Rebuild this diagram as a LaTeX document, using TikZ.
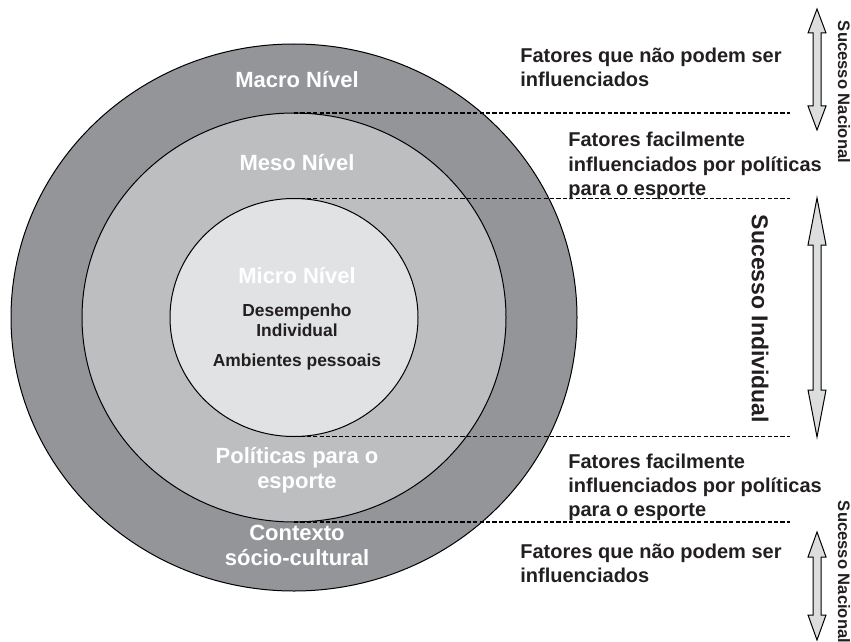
\documentclass[tikz,border=0pt]{standalone}
\usepackage{fontspec}
\setmainfont{Liberation Sans}
\usetikzlibrary{positioning,shapes.geometric}

\definecolor{macrogray}{HTML}{939598}
\definecolor{mesogray}{HTML}{BCBEC0}
\definecolor{microgray}{HTML}{E1E2E3}
\definecolor{arrowgray}{HTML}{DCDDDF}
\definecolor{inkdark}{HTML}{231F20}

\tikzset{
  level/.style={ellipse, draw=black, line width=0.5pt, inner sep=0pt, outer sep=0pt},
  levelname/.style={anchor=base, text=white, font=\fontsize{11}{13}\selectfont\bfseries},
  micronote/.style={anchor=base, text=inkdark, font=\fontsize{8.7}{10}\selectfont\bfseries},
  factor/.style={anchor=base west, inner sep=0pt, text=inkdark, font=\fontsize{10}{12}\selectfont\bfseries},
  guide/.style={draw=black, line width=0.6pt, dash pattern=on 2.1pt off 1.1pt},
  bigarrow/.style={draw=black, line width=0.5pt, fill=arrowgray, line join=miter},
  sucesso/.style={rotate=-90, text=inkdark, inner sep=0pt, font=\fontsize{#1}{#1}\selectfont\bfseries}
}

% x, top tip, bottom tip, head length
\newcommand{\dblarrow}[4]{%
  \draw[bigarrow] (#1,#2) -- (#1+9,#2+#4) -- (#1+4,#2+#4) -- (#1+4,#3-#4) -- (#1+9,#3-#4)
    -- (#1,#3) -- (#1-9,#3-#4) -- (#1-4,#3-#4) -- (#1-4,#2+#4) -- (#1-9,#2+#4) -- cycle;}

\begin{document}
\begin{tikzpicture}[x=0.5pt, y=-0.5pt]
  \useasboundingbox (0,0) rectangle (851,642);

  \node[level, fill=macrogray, minimum width=283pt, minimum height=273.5pt] (macro) at (294,317.5) {};
  \node[level, fill=mesogray, minimum width=212pt, minimum height=204.5pt] (meso) at (294,317.5) {};
  \node[level, fill=microgray, minimum width=124pt, minimum height=119pt] (micro) at (294,317.5) {};

  \coordinate (guide-end) at (790,0);
  \draw[guide] (meso.north) -- (meso.north -| guide-end);
  \draw[guide] (micro.north) -- (micro.north -| guide-end);
  \draw[guide] (micro.south) -- (micro.south -| guide-end);
  \draw[guide] (meso.south) -- (meso.south -| guide-end);

  \node[levelname] (macro-name) at (297,88) {Macro Nível};
  \node[levelname] (meso-name) at (297,170) {Meso Nível};
  \node[levelname] (micro-name) at (297,283) {Micro Nível};
  \node[micronote] (micro-desemp) at (297,316) {Desempenho};
  \node[micronote] (micro-indiv) at (297,336) {Individual};
  \node[micronote] (micro-amb) at (297,366) {Ambientes pessoais};
  \node[levelname] (meso-pol1) at (297,463) {Políticas para o};
  \node[levelname] (meso-pol2) at (297,488) {esporte};
  \node[levelname] (macro-ctx1) at (297,540) {Contexto};
  \node[levelname] (macro-ctx2) at (297,565) {sócio-cultural};

  % fatores, lado direito
  \node[factor] (top-fix1) at (520,63) {Fatores que não podem ser};
  \node[factor] (top-fix2) at (520,87) {influenciados};
  \node[factor] (top-pol1) at (568,147) {Fatores facilmente};
  \node[factor] (top-pol2) at (568,171) {influenciados por políticas};
  \node[factor] (top-pol3) at (568,195) {para o esporte};
  \node[factor] (bot-pol1) at (568,468) {Fatores facilmente};
  \node[factor] (bot-pol2) at (568,492) {influenciados por políticas};
  \node[factor] (bot-pol3) at (568,516) {para o esporte};
  \node[factor] (bot-fix1) at (520,558) {Fatores que não podem ser};
  \node[factor] (bot-fix2) at (520,582) {influenciados};

  \dblarrow{817}{9}{130}{24}
  \dblarrow{817}{198}{437}{47}
  \dblarrow{817}{532}{640}{25}

  \node[sucesso=8.3] (nacional-top) at (844,92) {Sucesso Nacional};
  \node[sucesso=11.5] (individual) at (760,319) {Sucesso Individual};
  \node[sucesso=8.3] (nacional-bot) at (844,572) {Sucesso Nacional};
\end{tikzpicture}
\end{document}
